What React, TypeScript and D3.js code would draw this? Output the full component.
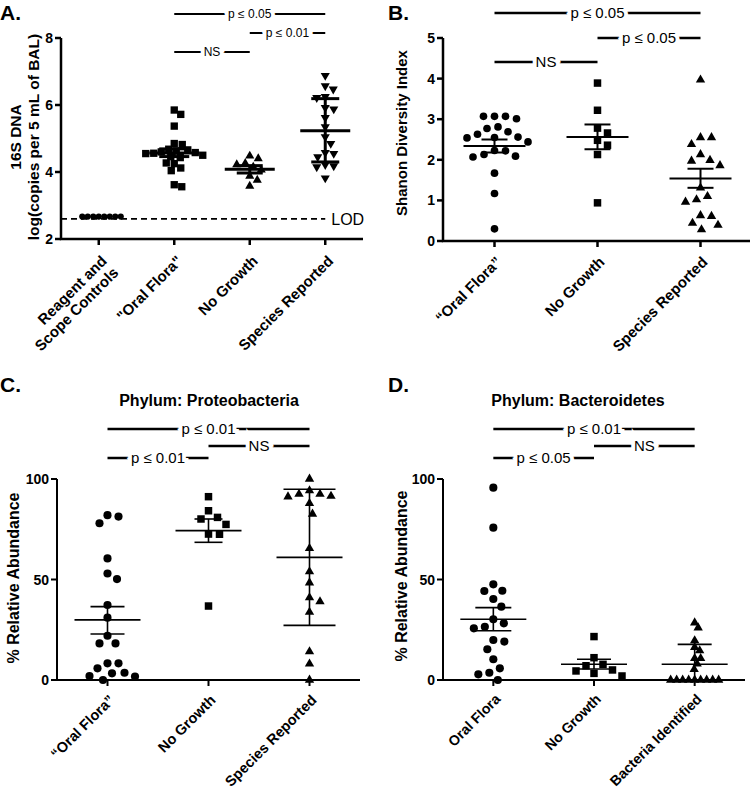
import React from "react";
import * as d3 from "d3";

const FONT = "'Liberation Sans', Arial, Helvetica, sans-serif";

// ---------- Panel A ----------
const catsA = ["Reagent and\nScope Controls", "\"Oral Flora\"", "No Growth", "Species Reported"];
const ticksA = [2, 4, 6, 8];
const controlsA = [2.67, 2.67, 2.67, 2.67, 2.67, 2.67, 2.67, 2.67];
const oralA = [5.85, 5.72, 5.37, 4.85, 4.82, 4.68, 4.66, 4.63, 4.6, 4.58, 4.56, 4.55, 4.5, 4.46, 4.43, 4.27, 4.25, 4.12, 4.04, 3.62, 3.56];
const noGrowthA = [4.48, 4.4, 4.26, 4.22, 4.15, 4.06, 3.88, 3.76, 3.58];
const speciesA = [6.88, 6.57, 6.47, 6.25, 6.22, 5.92, 5.88, 5.62, 5.35, 5.05, 4.85, 4.58, 4.55, 4.45, 4.22, 4.18, 4.15, 3.82];
const meansA = [NaN, 4.57, 4.08, 5.23];
const lowsA = [NaN, 4.46, 3.97, 4.3];
const highsA = [NaN, 4.69, 4.19, 6.19];
const lodA = 2.6;

// ---------- Panel B ----------
const catsB = ["\u201COral Flora\u201D", "No Growth", "Species Reported"];
const ticksB = [0, 1, 2, 3, 4, 5];
const oralB = [3.07, 3.07, 3.07, 3.01, 2.81, 2.77, 2.69, 2.63, 2.56, 2.55, 2.54, 2.44, 2.23, 2.22, 2.13, 2.09, 2.07, 1.67, 1.17, 0.3];
const noGrowthB = [3.89, 3.22, 2.78, 2.66, 2.48, 2.36, 2.13, 0.94];
const speciesB = [3.97, 2.55, 2.55, 2.38, 2.13, 1.99, 1.97, 1.86, 1.31, 1.1, 1.02, 0.96, 0.63, 0.61, 0.44, 0.39, 0.28];
const meansB = [2.34, 2.56, 1.54];
const lowsB = [2.18, 2.26, 1.31];
const highsB = [2.5, 2.87, 1.78];

// ---------- Panel C ----------
const catsC = ["\u201COral Flora\u201D", "No Growth", "Species Reported"];
const ticksCD = [0, 50, 100];
const oralC = [82, 81.3, 78, 60.5, 53, 50.2, 37.3, 31, 22, 18.2, 18.2, 8.3, 8.3, 5.8, 3.6, 3.3, 2, 1.7, 0];
const noGrowthC = [91.2, 84.2, 80.9, 80.1, 77.4, 72.6, 72.5, 36.8];
const speciesC = [100, 94.2, 92.5, 92.5, 91.5, 91.2, 87.9, 82.6, 65.5, 53.9, 48.4, 41, 39, 33.8, 14.1, 8, 0];
const meansC = [29.9, 74.3, 61];
const lowsC = [22.9, 68.5, 27.2];
const highsC = [36.5, 80.1, 94.9];

// ---------- Panel D ----------
const catsD = ["Oral Flora", "No Growth", "Bacteria Identified"];
const oralD = [95.7, 75.8, 47.6, 44.4, 44.3, 40.3, 36.5, 30.2, 28.2, 26.5, 25.7, 19.9, 19.1, 15.3, 10.3, 5.8, 3.6, 2.8, 0];
const noGrowthD = [21.6, 11.1, 7.8, 7.1, 5, 4.5, 3.3, 2];
const bactD = [28.5, 26, 19.6, 16.3, 14.6, 10.8, 10.8, 8, 5.3, 0, 0, 0, 0, 0, 0, 0, 0, 0];
const meansD = [30.2, 7.8, 7.8];
const lowsD = [24.5, 5.5, 0];
const highsD = [36, 10.3, 17.7];

type Bracket = { y: number; a: number; b: number; label: string };
type Marker = { type: string; size: number; dist: number };
type Cfg = {
  left: number; right: number; top: number; bottom: number;
  domain: [number, number]; ticks: number[]; tickFont: number;
  cats: string[]; groups: number[][]; markers: Marker[];
  means: number[]; lows: number[]; highs: number[];
  meanHalf: number; capHalf: number[]; errStroke: number; axisStroke: number;
  brackets: Bracket[]; bracketFont: number; bracketStroke: number;
  xFont: number; xDx: number; xDy: number;
  yLabel: string[]; yLabelX: number[]; yLabelY: number; yLabelFont: number;
  letter: string; letterX: number; letterY: number;
  title?: string; titleX?: number; titleY?: number;
  lod?: number;
};

function swarm(values: number[], y: (v: number) => number, cx: number, dist: number) {
  const order = values.map((_, i) => i).sort((i, j) => values[j] - values[i]);
  const placed: { x: number; y: number }[] = [];
  const out: { x: number; y: number }[] = new Array(values.length);
  for (const i of order) {
    const py = y(values[i]);
    let found = cx;
    for (let k = 0; k < 600; k++) {
      const off = Math.ceil(k / 2) * 0.5 * (k % 2 === 1 ? 1 : -1);
      const px = cx + off;
      if (placed.every((p) => (p.x - px) ** 2 + (p.y - py) ** 2 >= dist * dist - 0.01)) {
        found = px;
        break;
      }
    }
    placed.push({ x: found, y: py });
    out[i] = { x: found, y: py };
  }
  return out;
}

const symbolTypes: Record<string, d3.SymbolType> = {
  circle: d3.symbolCircle,
  square: d3.symbolSquare,
  up: d3.symbolTriangle,
  down: d3.symbolTriangle,
};

function Panel({ c }: { c: Cfg }) {
  const y = d3.scaleLinear().domain(c.domain).range([c.bottom, c.top]);
  const x = d3.scalePoint<number>().domain(c.cats.map((_, i) => i)).range([c.left, c.right]).padding(0.5);
  return (
    <g fontFamily={FONT} fill="#000">
      <text x={c.letterX} y={c.letterY} fontSize={21} fontWeight="bold">{c.letter}</text>
      {c.title && (
        <text x={c.titleX} y={c.titleY} fontSize={16} fontWeight="bold" textAnchor="middle">{c.title}</text>
      )}
      {c.yLabel.map((t, i) => (
        <text key={i} transform={`translate(${c.yLabelX[i]},${c.yLabelY}) rotate(-90)`} textAnchor="middle"
          dy="0.35em" fontSize={c.yLabelFont} fontWeight="bold">{t}</text>
      ))}
      {c.lod !== undefined && (
        <g>
          <line x1={c.left} x2={x(3)!} y1={y(c.lod)} y2={y(c.lod)} stroke="#000" strokeWidth={1.6} strokeDasharray="6,4" />
          <text x={x(3)! + 6} y={y(c.lod)} dy="0.35em" fontSize={16}>LOD</text>
        </g>
      )}
      <path d={`M${c.left},${c.top}V${c.bottom}H${c.right}`} fill="none" stroke="#000" strokeWidth={c.axisStroke} />
      {c.ticks.map((t) => (
        <g key={t}>
          <line x1={c.left - 6} x2={c.left} y1={y(t)} y2={y(t)} stroke="#000" strokeWidth={c.axisStroke} />
          <text x={c.left - 8} y={y(t)} dy="0.36em" textAnchor="end" fontSize={c.tickFont} fontWeight="bold">{t}</text>
        </g>
      ))}
      {c.cats.map((cat, i) => {
        const cx = x(i)!;
        const lines = cat.split("\n");
        return (
          <g key={i}>
            <line x1={cx} x2={cx} y1={c.bottom} y2={c.bottom + 6} stroke="#000" strokeWidth={c.axisStroke} />
            <text transform={`translate(${cx + c.xDx},${c.bottom + c.xDy}) rotate(-45)`} textAnchor="end" fontSize={c.xFont} fontWeight="bold">
              {lines.map((l, k) => (
                <tspan key={k} x={0} dy={k === 0 ? 0 : "1.1em"}>{l}</tspan>
              ))}
            </text>
          </g>
        );
      })}
      {c.groups.map((vals, gi) => {
        const m = c.markers[gi];
        const pts = swarm(vals, y, x(gi)!, m.dist);
        const path = d3.symbol().type(symbolTypes[m.type]).size(m.size)()!;
        return (
          <g key={gi}>
            {pts.map((p, k) => (
              <path key={k} d={path} transform={`translate(${p.x},${p.y})${m.type === "down" ? " rotate(180)" : ""}`} fill="#000" />
            ))}
          </g>
        );
      })}
      {c.means.map((mv, gi) => {
        if (isNaN(mv)) return null;
        const cx = x(gi)!;
        const ch = c.capHalf[gi];
        return (
          <g key={gi} stroke="#000" strokeWidth={c.errStroke}>
            <line x1={cx - c.meanHalf} x2={cx + c.meanHalf} y1={y(mv)} y2={y(mv)} />
            <line x1={cx} x2={cx} y1={y(c.lows[gi])} y2={y(c.highs[gi])} />
            <line x1={cx - ch} x2={cx + ch} y1={y(c.lows[gi])} y2={y(c.lows[gi])} />
            <line x1={cx - ch} x2={cx + ch} y1={y(c.highs[gi])} y2={y(c.highs[gi])} />
          </g>
        );
      })}
      {c.brackets.map((b, i) => {
        const x1 = x(b.a)!, x2 = x(b.b)!;
        return (
          <g key={i}>
            <line x1={x1} x2={x2} y1={b.y} y2={b.y} stroke="#000" strokeWidth={c.bracketStroke} />
            <text x={(x1 + x2) / 2} y={b.y} dy="0.36em" textAnchor="middle" fontSize={c.bracketFont}
              stroke="#fff" strokeWidth={8} style={{ paintOrder: "stroke" }}>{b.label}</text>
          </g>
        );
      })}
    </g>
  );
}

const cfgA: Cfg = {
  left: 61, right: 363, top: 38, bottom: 239, domain: [2, 8], ticks: ticksA, tickFont: 14,
  cats: catsA, groups: [controlsA, oralA, noGrowthA, speciesA],
  markers: [
    { type: "circle", size: 30, dist: 5.5 },
    { type: "square", size: 54, dist: 7.6 },
    { type: "up", size: 36, dist: 8.5 },
    { type: "down", size: 36, dist: 8.5 },
  ],
  means: meansA, lows: lowsA, highs: highsA, meanHalf: 25, capHalf: [0, 15, 13, 14], errStroke: 3, axisStroke: 2.5,
  brackets: [
    { y: 14, a: 1, b: 3, label: "p \u2264 0.05" },
    { y: 33, a: 2, b: 3, label: "p \u2264 0.01" },
    { y: 52, a: 1, b: 2, label: "NS" },
  ],
  bracketFont: 12, bracketStroke: 2, xFont: 15, xDx: 9, xDy: 23,
  yLabel: ["16S DNA", "log(copies per 5 mL of BAL)"], yLabelX: [16, 34], yLabelY: 137, yLabelFont: 15.5,
  letter: "A.", letterX: 0, letterY: 20, lod: lodA,
};

const cfgB: Cfg = {
  left: 443, right: 752, top: 38, bottom: 241, domain: [0, 5], ticks: ticksB, tickFont: 14,
  cats: catsB, groups: [oralB, noGrowthB, speciesB],
  markers: [
    { type: "circle", size: 46, dist: 11 },
    { type: "square", size: 56, dist: 11 },
    { type: "up", size: 38, dist: 11 },
  ],
  means: meansB, lows: lowsB, highs: highsB, meanHalf: 31, capHalf: [13, 13, 13], errStroke: 2, axisStroke: 2.5,
  brackets: [
    { y: 13, a: 0, b: 2, label: "p \u2264 0.05" },
    { y: 38, a: 1, b: 2, label: "p \u2264 0.05" },
    { y: 62, a: 0, b: 1, label: "NS" },
  ],
  bracketFont: 15, bracketStroke: 2.5, xFont: 15, xDx: 8, xDy: 22,
  yLabel: ["Shanon Diversity Index"], yLabelX: [402], yLabelY: 133, yLabelFont: 15,
  letter: "B.", letterX: 388, letterY: 20,
};

const cfgC: Cfg = {
  left: 57, right: 360, top: 479, bottom: 680, domain: [0, 100], ticks: ticksCD, tickFont: 14,
  cats: catsC, groups: [oralC, noGrowthC, speciesC],
  markers: [
    { type: "circle", size: 52, dist: 11 },
    { type: "square", size: 56, dist: 11 },
    { type: "up", size: 38, dist: 11 },
  ],
  means: meansC, lows: lowsC, highs: highsC, meanHalf: 33, capHalf: [17, 14, 26], errStroke: 1.6, axisStroke: 2,
  brackets: [
    { y: 429, a: 0, b: 2, label: "p \u2264 0.01" },
    { y: 446, a: 1, b: 2, label: "NS" },
    { y: 458, a: 0, b: 1, label: "p \u2264 0.01" },
  ],
  bracketFont: 15, bracketStroke: 2.5, xFont: 14.5, xDx: 8, xDy: 21,
  yLabel: ["% Relative Abundance"], yLabelX: [13], yLabelY: 578, yLabelFont: 16,
  letter: "C.", letterX: 0, letterY: 392, title: "Phylum: Proteobacteria", titleX: 209, titleY: 406,
};

const cfgD: Cfg = {
  left: 443, right: 745, top: 479, bottom: 680, domain: [0, 100], ticks: ticksCD, tickFont: 14,
  cats: catsD, groups: [oralD, noGrowthD, bactD],
  markers: [
    { type: "circle", size: 52, dist: 11 },
    { type: "square", size: 56, dist: 11 },
    { type: "up", size: 38, dist: 6 },
  ],
  means: meansD, lows: lowsD, highs: highsD, meanHalf: 33, capHalf: [18, 17, 17], errStroke: 1.6, axisStroke: 2,
  brackets: [
    { y: 429, a: 0, b: 2, label: "p \u2264 0.01" },
    { y: 446, a: 1, b: 2, label: "NS" },
    { y: 458, a: 0, b: 1, label: "p \u2264 0.05" },
  ],
  bracketFont: 15, bracketStroke: 2.5, xFont: 14.2, xDx: 8, xDy: 20,
  yLabel: ["% Relative Abundance"], yLabelX: [401], yLabelY: 576, yLabelFont: 16,
  letter: "D.", letterX: 388, letterY: 392, title: "Phylum: Bacteroidetes", titleX: 578, titleY: 406,
};

export default function App() {
  return (
    <svg width={750} height={794} style={{ position: "absolute", left: 0, top: 0, background: "#fff" }}>
      <rect width={750} height={794} fill="#fff" />
      <Panel c={cfgA} />
      <Panel c={cfgB} />
      <Panel c={cfgC} />
      <Panel c={cfgD} />
    </svg>
  );
}
